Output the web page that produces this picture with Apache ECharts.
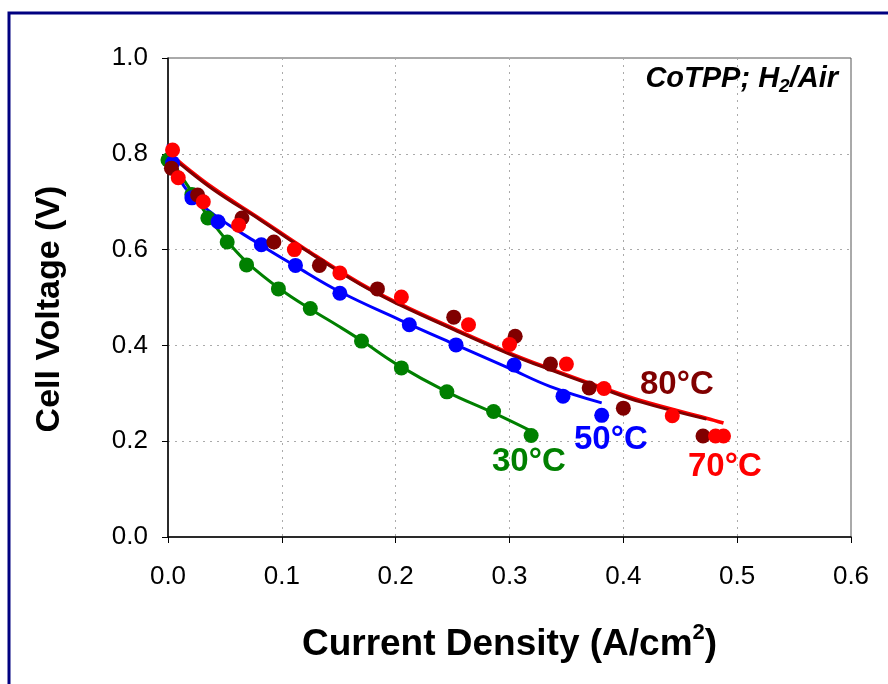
<!DOCTYPE html>
<html>
<head>
<meta charset="utf-8">
<script src="https://cdn.jsdelivr.net/npm/echarts@6/dist/echarts.min.js"></script>
<style>
html,body{margin:0;padding:0;background:#fff;}
#chart{width:888px;height:684px;}
</style>
</head>
<body>
<div id="chart"></div>
<script>
// Measured points [current density A/cm2, voltage V]
const pts30 = [[0.0,0.787],[0.021,0.715],[0.035,0.666],[0.052,0.616],[0.069,0.568],[0.097,0.518],[0.125,0.477],[0.170,0.409],[0.205,0.353],[0.245,0.303],[0.286,0.262],[0.319,0.212]];
const pts50 = [[0.004,0.781],[0.021,0.708],[0.044,0.658],[0.082,0.610],[0.112,0.567],[0.151,0.509],[0.212,0.443],[0.253,0.401],[0.304,0.359],[0.347,0.294],[0.381,0.254]];
const pts70 = [[0.004,0.808],[0.009,0.750],[0.031,0.700],[0.062,0.651],[0.111,0.600],[0.151,0.551],[0.205,0.501],[0.264,0.443],[0.300,0.402],[0.350,0.361],[0.383,0.310],[0.443,0.253],[0.481,0.211],[0.488,0.211]];
const pts80 = [[0.003,0.770],[0.026,0.714],[0.065,0.666],[0.093,0.616],[0.133,0.567],[0.184,0.518],[0.251,0.459],[0.305,0.419],[0.336,0.361],[0.370,0.311],[0.400,0.269],[0.470,0.211]];
// Trend lines
const fit30 = [[0.0,0.80],[0.01,0.76],[0.021,0.72],[0.035,0.67],[0.053,0.615],[0.07,0.572],[0.1,0.515],[0.125,0.476],[0.15,0.44],[0.17,0.41],[0.2,0.362],[0.245,0.303],[0.286,0.259],[0.32,0.22]];
const fit50 = [[0.0,0.82],[0.006,0.77],[0.018,0.72],[0.041,0.672],[0.077,0.616],[0.111,0.567],[0.151,0.512],[0.204,0.453],[0.253,0.401],[0.3,0.352],[0.336,0.314],[0.381,0.28]];
const fit70 = [[0.0,0.805],[0.01,0.783],[0.04,0.728],[0.081,0.664],[0.12,0.602],[0.169,0.529],[0.204,0.486],[0.25,0.436],[0.3,0.384],[0.336,0.351],[0.38,0.313],[0.415,0.285],[0.473,0.248],[0.488,0.238]];
const fit80 = [[0.0,0.80],[0.01,0.78],[0.04,0.725],[0.081,0.662],[0.12,0.60],[0.169,0.527],[0.204,0.484],[0.25,0.434],[0.3,0.382],[0.336,0.349],[0.38,0.311],[0.415,0.282],[0.473,0.246]];
const xTicks = ['0.0','0.1','0.2','0.3','0.4','0.5','0.6'];
const yTicks = ['0.0','0.2','0.4','0.6','0.8','1.0'];

const C30 = '#008000', C50 = '#0000ff', C70 = '#ff0000', C80 = '#800000';
const FONT = 'Liberation Sans, Arial, sans-serif';

const chart = echarts.init(document.getElementById('chart'), null, {renderer:'canvas'});
function line(data, color, w, z){
  return {type:'line', data, smooth:0.4, showSymbol:false, symbol:'none', lineStyle:{color, width:w}, z, silent:true};
}
function scatter(data, color, z){
  return {type:'scatter', data, symbolSize:15, itemStyle:{color, opacity:1}, z, silent:true};
}
chart.setOption({
  animation:false,
  backgroundColor:'#ffffff',
  grid:{left:168, right:37, top:58, bottom:147, show:true, borderColor:'#555555', borderWidth:1},
  xAxis:{
    type:'value', min:0, max:0.6, interval:0.1,
    axisLine:{show:true, onZero:false, lineStyle:{color:'#000', width:1.5}},
    axisTick:{show:true, inside:false, length:6, lineStyle:{color:'#000'}},
    splitLine:{show:true, lineStyle:{color:'#aaa', type:[2,5], width:1}},
    axisLabel:{fontFamily:FONT, fontSize:26, color:'#000', margin:27,
      formatter:(v)=>xTicks[Math.round(v*10)]},
    name:'Current Density (A/cm{sup|2})', nameLocation:'middle', nameGap:85,
    nameTextStyle:{fontFamily:FONT, fontSize:37, fontWeight:'bold', color:'#000',
      rich:{sup:{fontFamily:FONT, fontSize:22, fontWeight:'bold', color:'#000', verticalAlign:'top', padding:[0,0,24,0]}}}
  },
  yAxis:{
    type:'value', min:0, max:1.0, interval:0.2,
    axisLine:{show:true, onZero:false, lineStyle:{color:'#000', width:1.5}},
    axisTick:{show:true, inside:false, length:6, lineStyle:{color:'#000'}},
    splitLine:{show:true, lineStyle:{color:'#aaa', type:[2,5], width:1}},
    axisLabel:{fontFamily:FONT, fontSize:26, color:'#000', margin:20,
      formatter:(v)=>yTicks[Math.round(v*5)]}
  },
  series:[
    line(fit30, C30, 3, 2),
    line(fit50, C50, 3, 2),
    line(fit70, C70, 3.6, 2),
    line(fit80, C80, 3, 3),
    scatter(pts30, C30, 5),
    scatter(pts50, C50, 5),
    scatter(pts80, C80, 5),
    scatter(pts70, C70, 6)
  ],
  graphic:[
    {type:'rect', shape:{x:9, y:13, width:900, height:700}, style:{fill:null, stroke:'#000080', lineWidth:3}, z:100, silent:true},
    {type:'text', x:50, y:309, rotation:Math.PI/2, style:{text:'Cell Voltage (V)', fontFamily:FONT, fontSize:34, fontWeight:'bold', fill:'#000', align:'center', verticalAlign:'middle'}, z:100},
    {type:'text', right:50, top:64, style:{text:'{t|CoTPP; H}{s|2}{t|/Air}', rich:{
      t:{fontFamily:FONT, fontSize:29, fontWeight:'bold', fontStyle:'italic', fill:'#000'},
      s:{fontFamily:FONT, fontSize:19, fontWeight:'bold', fontStyle:'italic', fill:'#000', verticalAlign:'bottom', padding:[17,0,0,0]}}}, z:100},
    {type:'text', x:640, y:385, style:{text:'80°C', fontFamily:FONT, fontSize:33, fontWeight:'bold', fill:C80, verticalAlign:'middle'}, z:100},
    {type:'text', x:574, y:440, style:{text:'50°C', fontFamily:FONT, fontSize:33, fontWeight:'bold', fill:C50, verticalAlign:'middle'}, z:100},
    {type:'text', x:492, y:462, style:{text:'30°C', fontFamily:FONT, fontSize:33, fontWeight:'bold', fill:C30, verticalAlign:'middle'}, z:100},
    {type:'text', x:688, y:467, style:{text:'70°C', fontFamily:FONT, fontSize:33, fontWeight:'bold', fill:C70, verticalAlign:'middle'}, z:100}
  ]
});
</script>
</body>
</html>
